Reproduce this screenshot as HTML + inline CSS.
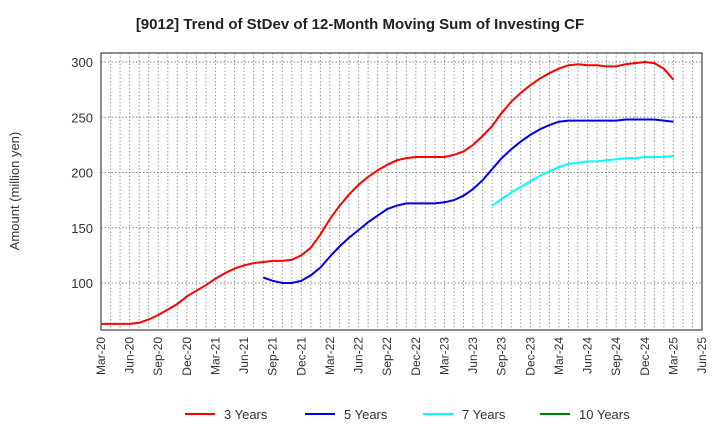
<!DOCTYPE html>
<html><head><meta charset="utf-8"><style>
body{margin:0;background:#fff;font-family:"Liberation Sans",sans-serif;}
</style></head><body>
<svg width="720" height="440" xmlns="http://www.w3.org/2000/svg" font-family="Liberation Sans, sans-serif">
<text x="360" y="29" text-anchor="middle" font-size="15" font-weight="bold" fill="#222">[9012]  Trend of StDev of 12-Month Moving Sum of Investing CF</text>
<text transform="translate(19,191) rotate(-90)" text-anchor="middle" font-size="13" fill="#333">Amount (million yen)</text>
<g id="grid"></g><g id="series"></g><g id="axes"></g>
<g id="legend"></g>
</svg>
<script>
const xLabels=["Mar-20","Jun-20","Sep-20","Dec-20","Mar-21","Jun-21","Sep-21","Dec-21","Mar-22","Jun-22","Sep-22","Dec-22","Mar-23","Jun-23","Sep-23","Dec-23","Mar-24","Jun-24","Sep-24","Dec-24","Mar-25","Jun-25"];
const yTicks=[100,150,200,250,300];
const s3=[63,63,63,63,64,67,71,76,81,88,93,98,104,109,113,116,118,119,120,120,121,125,132,144,158,170,180,189,196,202,207,211,213,214,214,214,214,216,219,225,233,242,254,264,272,279,285,290,294,297,298,297,297,296,296,298,299,300,299,294,284];
const s5Start=17;
const s5=[105,102,100,100,102,107,114,124,133,141,148,155,161,167,170,172,172,172,172,173,175,179,185,193,203,213,221,228,234,239,243,246,247,247,247,247,247,247,248,248,248,248,247,246];
const s7Start=41;
const s7=[170,176,182,187,192,197,201,205,208,209,210,210,211,212,213,213,214,214,214,215];
const s10Start=0;
const s10=[];
const X0=101,X1=702,Y0=53,Y1=330,NM=63;
const x=i=>X0+(X1-X0)*i/NM;
const y=v=>283-(v-100)*1.105;
const NS="http://www.w3.org/2000/svg";
function mk(t,a,p){const e=document.createElementNS(NS,t);for(const k in a)e.setAttribute(k,a[k]);p.appendChild(e);return e;}
const grid=document.getElementById('grid'),axes=document.getElementById('axes'),ser=document.getElementById('series'),leg=document.getElementById('legend');
for(let m=1;m<NM;m++){const l=mk('line',{x1:x(m),x2:x(m),y1:Y0,y2:Y1,stroke:'#999','stroke-dasharray':'1.5,2','stroke-width':1},grid);

}
yTicks.forEach(v=>{const l=mk('line',{x1:X0,x2:X1,y1:y(v),y2:y(v),stroke:'#888','stroke-dasharray':'1.5,2','stroke-width':1},grid);


const t=mk('text',{x:X0-8,y:y(v)+5,'text-anchor':'end','font-size':13,fill:'#333'},axes);t.textContent=v;

});
xLabels.forEach((s,i)=>{const xx=x(i*3);const t=mk('text',{transform:`translate(${xx+4},${Y1+7}) rotate(-90)`,'text-anchor':'end','font-size':12,fill:'#333'},axes);t.textContent=s;

});
const box=mk('rect',{x:X0,y:Y0,width:X1-X0,height:Y1-Y0,fill:'none',stroke:'#444','stroke-width':1.2},axes);


function line(data,start,color,name){if(!data.length)return;const d=data.map((v,i)=>(i?'L':'M')+x(start+i).toFixed(1)+','+y(v).toFixed(1)).join('');
const p=mk('path',{d,fill:'none',stroke:color,'stroke-width':2},ser);

}
line(s3,0,'#ff0000','series-3-years');
line(s5,s5Start,'#0000ee','series-5-years');
line(s7,s7Start,'#00ffff','series-7-years');
line(s10,s10Start,'#008000','series-10-years');
[["3 Years","#ff0000",185],["5 Years","#0000ee",305],["7 Years","#00ffff",423],["10 Years","#008000",540]].forEach(([n,c,lx])=>{
const g=mk('g',{},leg);


mk('line',{x1:lx,x2:lx+30,y1:414,y2:414,stroke:c,'stroke-width':2},g);
const t=mk('text',{x:lx+39,y:419,'font-size':13,fill:'#333'},g);t.textContent=n;});
</script>
</body></html>
